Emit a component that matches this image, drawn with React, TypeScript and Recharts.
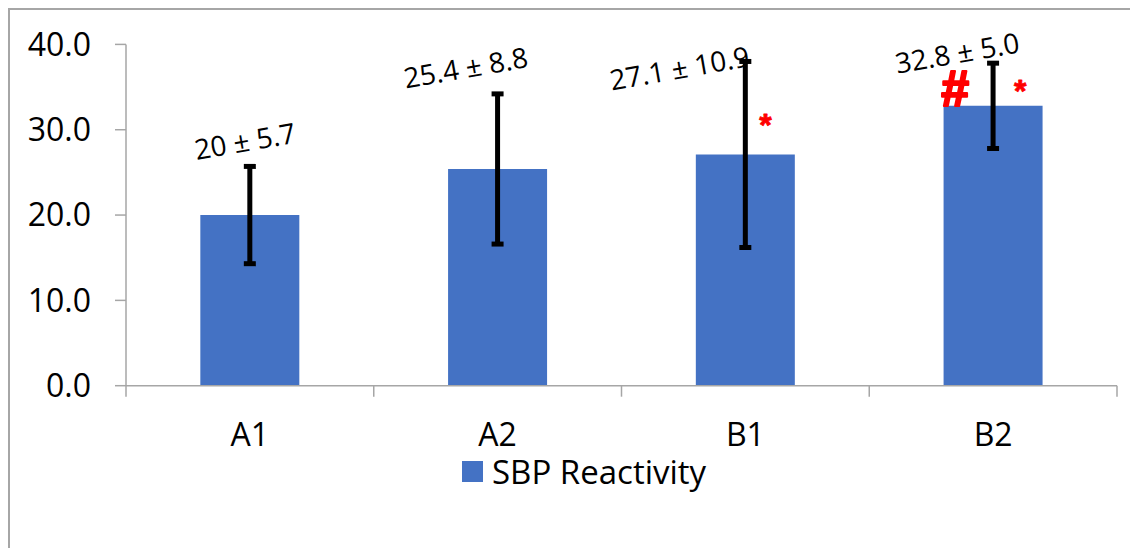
import React from 'react';
import { BarChart, Bar, XAxis, YAxis, ErrorBar, ReferenceDot, Legend } from 'recharts';

const categories = ['A1', 'A2', 'B1', 'B2'];
const means = [20.0, 25.4, 27.1, 32.8];
const errors = [5.7, 8.8, 10.9, 5.0];
const labelTexts = ['20 ± 5.7', '25.4 ± 8.8', '27.1 ± 10.9', '32.8 ± 5.0'];
const yTicks = [0, 10, 20, 30, 40];
const seriesName = 'SBP Reactivity';

// significance markers: category, attached value (bar mean), symbol
const markerCats = ['B2', 'B1', 'B2'];
const markerValues = [32.8, 27.1, 32.8];
const markerSymbols = ['#', '*', '*'];

// styling offsets (pixels) for annotation placement
const labelOffsets: [number, number][] = [[-5, -26], [-32, -27], [-66, 6], [-36, -11]];
const markerOffsets: [number, number][] = [[-38, 0], [20, -18], [27, -4]];
const markerSizes = [50, 32, 32];
const markerStrokes = [2.2, 0.8, 0.8];

const data = categories.map((c, i) => ({ cat: c, value: means[i], err: errors[i] }));

const FONT = '"Open Sans", sans-serif';
const AXIS = '#A6A6A6';
const BAR = '#4472C4';

const LegendContent = () => (
  <div style={{ display: 'flex', alignItems: 'center', fontFamily: FONT, fontSize: 33, lineHeight: '33px', color: '#000' }}>
    <div style={{ width: 21, height: 21, background: BAR }} />
    <span style={{ marginLeft: 9, whiteSpace: 'nowrap' }}>{seriesName}</span>
  </div>
);

const CategoryTick = (props: any) => {
  const { x, y, payload, index } = props;
  const half = payload && typeof payload.offset === 'number' && payload.offset > 0 ? payload.offset : 123.9;
  const last = index === categories.length - 1;
  return (
    <g>
      <line x1={x - half} y1={y} x2={x - half} y2={y + 11} stroke={AXIS} strokeWidth={1.5} />
      {last && <line x1={x + half} y1={y} x2={x + half} y2={y + 11} stroke={AXIS} strokeWidth={1.5} />}
      <text x={x} y={y + 38} dy="0.71em" textAnchor="middle" fontSize={32} fontFamily={FONT} fill="#000">
        {payload.value}
      </text>
    </g>
  );
};

export default function App() {
  return (
    <div style={{ width: 1128, height: 538, borderTop: `2px solid ${AXIS}`, borderLeft: `2px solid ${AXIS}`, fontFamily: FONT }}>
      <BarChart
        width={1128}
        height={538}
        data={data}
        margin={{ top: 34.4, right: 21, bottom: 132.3, left: 0 }}
        barCategoryGap="30%"
      >
        <XAxis
          dataKey="cat"
          height={30}
          interval={0}
          axisLine={{ stroke: AXIS, strokeWidth: 1.5 }}
          tickLine={false}
          tickSize={0}
          tickMargin={0}
          tick={<CategoryTick />}
        />
        <YAxis
          width={116}
          domain={[0, 40]}
          ticks={yTicks}
          interval={0}
          tickFormatter={(v: number) => v.toFixed(1)}
          axisLine={{ stroke: AXIS, strokeWidth: 1.5 }}
          tickLine={{ stroke: AXIS, strokeWidth: 1.5 }}
          tickSize={11}
          tickMargin={24}
          tick={{ fill: '#000', fontSize: 32, fontFamily: FONT }}
        />
        <Legend
          verticalAlign="middle"
          wrapperStyle={{ top: 444.5, left: 452, width: 'auto' }}
          content={() => <LegendContent />}
        />
        <Bar dataKey="value" name={seriesName} fill={BAR} isAnimationActive={false}>
          <ErrorBar dataKey="err" direction="y" width={6} strokeWidth={5} stroke="#000" isAnimationActive={false} />
        </Bar>
        {categories.map((c, i) => (
          <ReferenceDot
            key={'lbl' + c}
            x={c}
            y={means[i] + errors[i]}
            r={0}
            ifOverflow="visible"
            shape={(p: any) => {
              const cx = p.cx + labelOffsets[i][0];
              const cy = p.cy + labelOffsets[i][1];
              return (
                <text
                  x={cx}
                  y={cy}
                  textAnchor="middle"
                  dominantBaseline="central"
                  fontSize={28}
                  fontFamily={FONT}
                  fill="#000"
                  transform={`rotate(-10 ${cx} ${cy})`}
                >
                  {labelTexts[i]}
                </text>
              );
            }}
          />
        ))}
        {markerCats.map((c, i) => (
          <ReferenceDot
            key={'mk' + i}
            x={c}
            y={markerValues[i]}
            r={0}
            ifOverflow="visible"
            shape={(p: any) => (
              <text
                x={p.cx + markerOffsets[i][0]}
                y={p.cy + markerOffsets[i][1]}
                textAnchor="middle"
                fontSize={markerSizes[i]}
                fontWeight="bold"
                fontFamily='"Liberation Sans", Arial, sans-serif'
                fill="#FF0000"
                stroke="#FF0000"
                strokeWidth={markerStrokes[i]}
                strokeLinejoin="round"
              >
                {markerSymbols[i]}
              </text>
            )}
          />
        ))}
      </BarChart>
    </div>
  );
}
